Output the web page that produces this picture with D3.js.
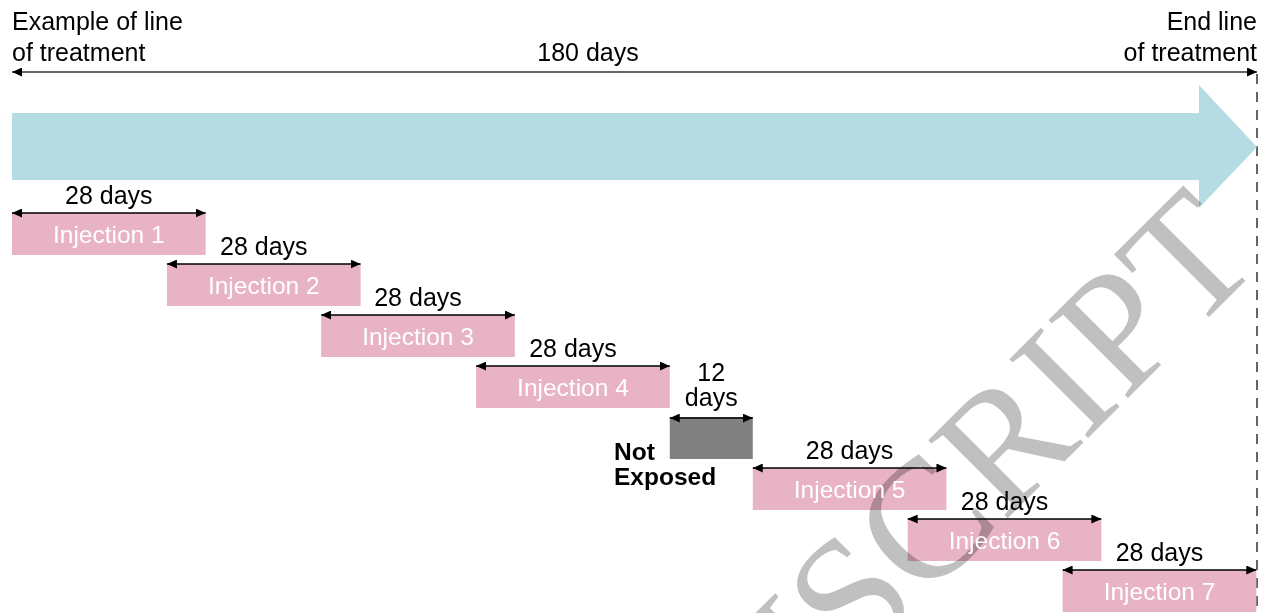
<!DOCTYPE html>
<html lang="en">
<head>
<meta charset="UTF-8" />
<title>Line of treatment</title>
<script src="https://cdnjs.cloudflare.com/ajax/libs/d3/7.8.5/d3.min.js"></script>
<style>
  * { margin: 0; padding: 0; box-sizing: border-box; }
  body { background: #fff; font-family: 'Liberation Sans', Arial, sans-serif; }
  svg { display: block; }
</style>
</head>
<body>
<svg id="chart" width="1262" height="613"></svg>
<script>
  // timeline values (days)
  const totalDays = 180;
  const injections = ["Injection 1", "Injection 2", "Injection 3", "Injection 4",
                      "Injection 5", "Injection 6", "Injection 7"];
  const injStart = [0, 22.4, 44.7, 67.1, 107.1, 129.5, 151.9];
  const injDays = [28, 28, 28, 28, 28, 28, 28];
  const injRow = [0, 1, 2, 3, 5, 6, 7];
  const gapStart = 95.1;
  const gapDays = 12;
  const gapRow = 4;

  const svg = d3.select("#chart");

  const x = d3.scaleLinear().domain([0, totalDays]).range([12, 1257]);
  const y = d3.scaleBand().domain(d3.range(8)).range([213, 612])
    .paddingInner(9 / 51).paddingOuter(0);

  // arrow heads
  const defs = svg.append("defs");
  [["arrEnd", "M0,0 L10,4.5 L0,9 Z", 10], ["arrStart", "M10,0 L0,4.5 L10,9 Z", 0]]
    .forEach(([id, d, rx]) => {
      defs.append("marker")
        .attr("id", id)
        .attr("viewBox", "0 0 10 9")
        .attr("markerWidth", 10).attr("markerHeight", 9)
        .attr("markerUnits", "userSpaceOnUse")
        .attr("refX", rx).attr("refY", 4.5)
        .attr("orient", "auto")
        .append("path").attr("d", d).attr("fill", "#000");
    });

  function span(g, x1, x2, yy, color) {
    g.append("line")
      .attr("x1", x1).attr("x2", x2)
      .attr("y1", yy).attr("y2", yy)
      .attr("stroke", color || "#000")
      .attr("stroke-width", 1.5)
      .attr("marker-start", "url(#arrStart)")
      .attr("marker-end", "url(#arrEnd)");
  }

  // header texts
  const head = svg.append("g").attr("font-size", 25).attr("fill", "#000");
  head.append("text").attr("x", x(0)).attr("y", 30).text("Example of line");
  head.append("text").attr("x", x(0)).attr("y", 61).text("of treatment");
  head.append("text").attr("x", x(totalDays)).attr("y", 30).attr("text-anchor", "end").text("End line");
  head.append("text").attr("x", x(totalDays)).attr("y", 61).attr("text-anchor", "end").text("of treatment");
  head.append("text").attr("x", 588).attr("y", 61).attr("text-anchor", "middle")
    .text(totalDays + " days");

  span(svg, x(0), x(totalDays), 72, "#333");

  // dashed end line
  svg.append("line")
    .attr("x1", x(totalDays)).attr("x2", x(totalDays))
    .attr("y1", 74).attr("y2", 613)
    .attr("stroke", "#333").attr("stroke-width", 1.5)
    .attr("stroke-dasharray", "10,8");

  // big blue arrow
  const headStart = 1199;
  svg.append("path")
    .attr("d", `M${x(0)},113 L${headStart},113 L${headStart},85 L${x(totalDays)},147 ` +
               `L${headStart},208 L${headStart},180 L${x(0)},180 Z`)
    .attr("fill", "#b6dce3");

  // injection bars
  const bars = svg.append("g");
  bars.selectAll("rect.inj")
    .data(injections)
    .join("rect")
    .attr("class", "inj")
    .attr("x", (d, i) => x(injStart[i]))
    .attr("y", (d, i) => y(injRow[i]))
    .attr("width", (d, i) => x(injStart[i] + injDays[i]) - x(injStart[i]))
    .attr("height", y.bandwidth())
    .attr("fill", "#e8b4c5");

  bars.append("rect")
    .attr("x", x(gapStart))
    .attr("y", y(gapRow))
    .attr("width", x(gapStart + gapDays) - x(gapStart))
    .attr("height", y.bandwidth())
    .attr("fill", "#808080");

  // watermark
  svg.append("text")
    .attr("transform", "translate(1264,262) rotate(-45)")
    .attr("text-anchor", "end")
    .attr("font-family", "'Liberation Serif', 'Times New Roman', serif")
    .attr("font-size", 170)
    .attr("fill", "#c0c0c0")
    .style("mix-blend-mode", "multiply")
    .text("ACCEPTED MANUSCRIPT");

  // labels
  const lab = svg.append("g").attr("font-size", 25);
  injections.forEach((name, i) => {
    const x1 = x(injStart[i]), x2 = x(injStart[i] + injDays[i]);
    const top = y(injRow[i]);
    lab.append("text")
      .attr("x", (x1 + x2) / 2).attr("y", top + 30)
      .attr("text-anchor", "middle").attr("fill", "#fff").attr("font-size", 24.5)
      .text(name);
    lab.append("text")
      .attr("x", (x1 + x2) / 2).attr("y", top - 9)
      .attr("text-anchor", "middle").attr("fill", "#000")
      .text(injDays[i] + " days");
    span(lab, x1, x2, top);
  });

  const gx1 = x(gapStart), gx2 = x(gapStart + gapDays), gtop = y(gapRow);
  lab.append("text").attr("x", (gx1 + gx2) / 2).attr("y", gtop - 36)
    .attr("text-anchor", "middle").text(gapDays);
  lab.append("text").attr("x", (gx1 + gx2) / 2).attr("y", gtop - 11)
    .attr("text-anchor", "middle").text("days");
  span(lab, gx1, gx2, gtop + 1);

  lab.append("text").attr("x", 614).attr("y", gtop + 43)
    .attr("font-weight", "bold").attr("font-size", 24.5).text("Not");
  lab.append("text").attr("x", 614).attr("y", gtop + 68)
    .attr("font-weight", "bold").attr("font-size", 24.5).text("Exposed");
</script>
</body>
</html>
